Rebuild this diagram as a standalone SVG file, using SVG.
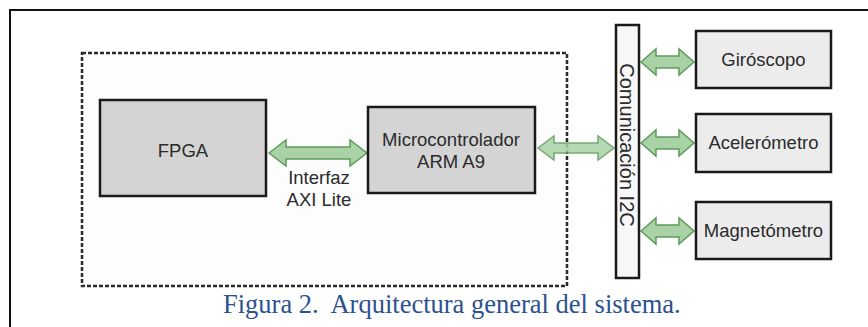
<svg xmlns="http://www.w3.org/2000/svg" width="868" height="327" viewBox="0 0 868 327">
<style>
.lbl{font-family:"Liberation Sans",Arial,sans-serif;font-size:18.5px;fill:#2b2b2b;text-anchor:middle}
.box{stroke:#1a1a1a;stroke-width:2.5}
.dark{fill:#d4d4d4}
.light{fill:#ececec}
.arr{fill:#a9d3a6;stroke:#5f9a5c;stroke-width:1.5;stroke-linejoin:miter}
.cap{font-family:"Liberation Serif","Times New Roman",serif;font-size:26.5px;fill:#2b5290;white-space:pre}
</style>
<rect x="10" y="10" width="870" height="330" fill="#fff" stroke="#111" stroke-width="2"/>
<rect id="container" x="82" y="53" width="485" height="233" fill="#fdfdfd" stroke="#2a2a2a" stroke-width="2.5" stroke-dasharray="4 2"/>
<g id="connectors">
<path class="arr" d="M269,153 L286,140 L286,147 L350,147 L350,140 L367,153 L350,166 L350,159 L286,159 L286,166 Z"/>
<path class="arr" d="M538,148 L554,136 L554,143 L598,143 L598,136 L614,148 L598,160 L598,153 L554,153 L554,160 Z" opacity="0.85"/>
<path class="arr" d="M641,62 L656,49 L656,56 L679,56 L679,49 L694,62 L679,75 L679,68 L656,68 L656,75 Z"/>
<path class="arr" d="M641,143 L656,130 L656,137 L679,137 L679,130 L694,143 L679,156 L679,149 L656,149 L656,156 Z"/>
<path class="arr" d="M641,231 L656,218 L656,225 L679,225 L679,218 L694,231 L679,244 L679,237 L656,237 L656,244 Z"/>
</g>
<g id="fpga">
<rect class="box dark" x="100" y="100" width="166" height="96"/>
<text class="lbl" x="183" y="157">FPGA</text>
</g>
<g id="axi-label">
<text class="lbl" x="319" y="184">Interfaz</text>
<text class="lbl" x="319" y="206">AXI Lite</text>
</g>
<g id="micro">
<rect class="box dark" x="368" y="107" width="167" height="86"/>
<text class="lbl" x="451" y="146">Microcontrolador</text>
<text class="lbl" x="451" y="168">ARM A9</text>
</g>
<g id="i2c">
<rect class="box" x="616" y="25" width="23" height="253" fill="#f7f7f7" stroke-width="2"/>
<text class="lbl" transform="translate(627,145) rotate(90)" y="7" style="font-size:20px">Comunicación I2C</text>
</g>
<g id="giroscopo">
<rect class="box light" x="696" y="31" width="135" height="57"/>
<text class="lbl" x="763.5" y="66">Giróscopo</text>
</g>
<g id="acelerometro">
<rect class="box light" x="696" y="114" width="135" height="58"/>
<text class="lbl" x="763.5" y="149">Acelerómetro</text>
</g>
<g id="magnetometro">
<rect class="box light" x="696" y="202" width="135" height="57"/>
<text class="lbl" x="763.5" y="237">Magnetómetro</text>
</g>
<text class="cap" x="223" y="313" xml:space="preserve">Figura 2.  Arquitectura general del sistema.</text>
</svg>
